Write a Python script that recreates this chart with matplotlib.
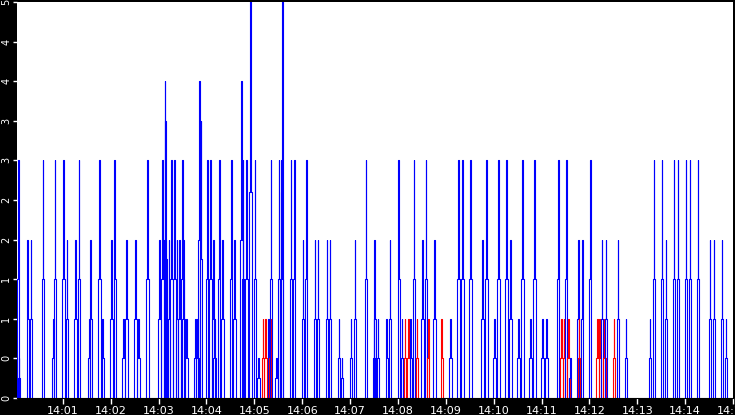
import matplotlib
matplotlib.use("Agg")
import matplotlib.pyplot as plt
import numpy as np

# event times (seconds after 14:00:00), peak values, colour codes
times = [4,5,16,20,35,48,50,61,65,76,80,93,95,106,110,121,125,136,140,151,155,166,
         181,185,188,189,193,196,200,203,206,210,211,215,226,229,231,233,241,245,249,250,
         256,260,271,275,284,286,290,295,301,305,311,314,318,320,321,328,331,334,335,
         346,350,361,365,376,380,391,395,406,410,421,426,440,450,451,455,466,470,481,485,
         489,493,496,500,504,511,515,518,526,535,546,556,561,571,586,591,601,606,616,621,
         631,636,646,651,661,666,681,685,688,691,694,696,706,707,711,721,730,733,736,739,
         741,751,756,766,796,801,811,816,826,831,841,846,856,871,876,886,891]
peaks = [3,0.5,2,2,3,1,3,3,2,2,3,1,2,3,1,2,3,1,2,2,1,3,
         2,3,4,3.5,2,3,3,2,2,3,2,1,1,1,4,3.5,3,3,2,1,
         3,2,3,2,4,3,3,5.2,3,0.5,1,1,1,1,3,0.5,3,3,5.2,
         3,3,2,3,2,2,2,2,1,0.5,1,2,3,1,2,1,1,2,3,1,
         1,1,1,3,1,2,3,1,2,1,1,3,3,3,2,3,1,3,3,2,
         1,3,1,3,1,1,3,1,1,3,1,0.5,2,1,2,3,1,1,2,1,
         2,1,2,1,1,3,3,2,3,3,3,3,3,2,2,2,1]
colors = ["b"]*len(times)
red_times = [311,314,320,489,493,504,518,535,685,688,694,707,730,733,739,751]
for i, t in enumerate(times):
    if t in red_times:
        colors[i] = "r"

xtick_secs = list(range(60, 901, 60))
xtick_labels = ["14:%02d" % (s // 60) for s in xtick_secs]
ytick_vals = [i * 0.5 for i in range(11)]
ytick_labels = [str(int(v)) for v in ytick_vals]

fig = plt.figure(figsize=(7.35, 4.15), dpi=100, facecolor="black")
ax = fig.add_axes([17/735, 17/415, 716/735, 396/415])
ax.set_facecolor("white")

for t, p, c in zip(times, peaks, colors):
    s = p / 2
    xs = [t-1.5, t-1.5, t-0.4, t-0.4, t+0.4, t+0.4, t+1.5, t+1.5]
    ys = [0, s, s, p, p, s, s, 0]
    ax.plot(xs, ys, color="#0000ff" if c == "b" else "#ff0000", lw=0.8, clip_on=True)

ax.set_xlim(2.5, 899)
ax.set_ylim(0, 5)
ax.set_xticks(xtick_secs)
ax.set_xticklabels(xtick_labels, color="white", fontsize=8)
ax.set_yticks(ytick_vals)
ax.set_yticklabels(ytick_labels, color="white", fontsize=7, rotation=90, va="center")
ax.tick_params(axis="x", colors="white", length=4, width=1, direction="out", pad=2)
ax.tick_params(axis="y", colors="white", length=3, width=1, direction="out", pad=1)
for sp in ["top", "right", "left"]:
    ax.spines[sp].set_visible(False)
ax.spines["bottom"].set_color("black")
fig.savefig("out.png", dpi=100, facecolor="black")
